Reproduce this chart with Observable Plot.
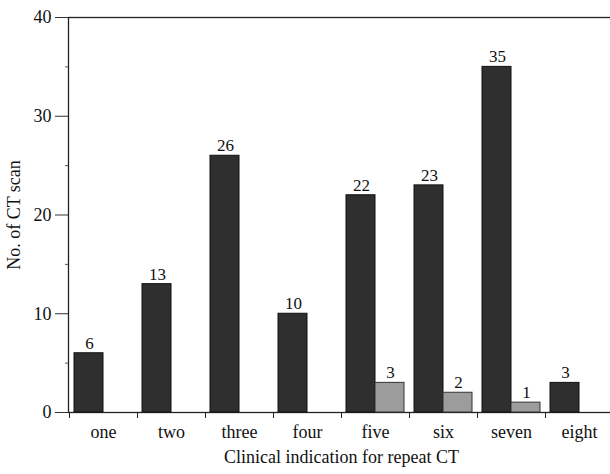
<!DOCTYPE html>
<html><head><meta charset="utf-8">
<script src="https://cdn.jsdelivr.net/npm/d3@7"></script>
<script src="https://cdn.jsdelivr.net/npm/@observablehq/plot@0.6"></script>
<style>body{margin:0;background:#fff;}</style>
</head><body>
<div id="chart"></div>
<script>
const categories = ["one","two","three","four","five","six","seven","eight"];
const darkValues = [6,13,26,10,22,23,35,3];
const greyValues = [null,null,null,null,3,2,1,null];
const yTicks = [0,10,20,30,40];
const yMinorTicks = [5,15,25,35];

const dark = categories.map((c,i)=>({cat:c, v:darkValues[i]})).filter(d=>d.v!=null);
const grey = categories.map((c,i)=>({cat:c, v:greyValues[i]})).filter(d=>d.v!=null);

const font = "Liberation Serif, Times New Roman, serif";
const chart = Plot.plot({
  width: 610, height: 474,
  marginTop: 17, marginBottom: 62, marginLeft: 68, marginRight: -4,
  style: {fontFamily: font, fontSize: "17px", background: "#fff", color: "#111"},
  x: {domain: categories, padding: 0, label: null},
  y: {domain: [0,40], label: null},
  marks: [
    Plot.frame({stroke: "#222", strokeWidth: 1.3}),
    Plot.barY(dark, {x:"cat", y:"v", insetLeft:5, insetRight:34, fill:"#2f2f2f", stroke:"#111", strokeWidth:1}),
    Plot.barY(grey, {x:"cat", y:"v", insetLeft:34, insetRight:5, fill:"#9c9c9c", stroke:"#333", strokeWidth:1}),
    Plot.text(dark, {x:"cat", y:"v", text:"v", dx:-14, dy:-10, fontSize:17, fill:"#111"}),
    Plot.text(grey, {x:"cat", y:"v", text:"v", dx:15, dy:-10, fontSize:17, fill:"#111"}),
    Plot.axisY({ticks: yTicks, tickSize: 13, tickPadding: 4, fontSize: 18, label: "No. of CT scan", labelAnchor: "center", labelOffset: 61, labelArrow: "none", stroke:"#333"}),
    Plot.axisY({ticks: yMinorTicks, tickSize: 3, text: null, label: null, stroke:"#555"}),
    Plot.axisX({tickSize: 6, text: null, label: null, dx: -34, stroke:"#222"}),
    Plot.axisX({tickSize: 0, tickPadding: 13, fontSize: 18, label: "Clinical indication for repeat CT", labelAnchor: "center", labelOffset: 50, labelArrow: "none"})
  ]
});
document.getElementById("chart").appendChild(chart);
</script>
</body></html>
